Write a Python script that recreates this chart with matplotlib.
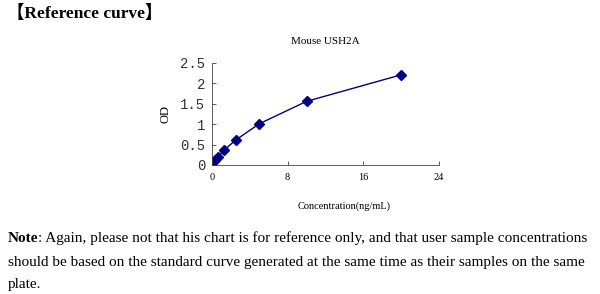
import matplotlib.pyplot as plt

conc = [0, 0.156, 0.3125, 0.625, 1.25, 2.5, 5, 10, 20]
od = [0.04, 0.08, 0.12, 0.2, 0.36, 0.61, 1.01, 1.56, 2.21]

x_ticks = [0, 8, 16, 24]
y_ticks = [0, 0.5, 1, 1.5, 2, 2.5]
y_tick_labels = ["0", "0.5", "1", "1.5", "2", "2.5"]

serif = ["Liberation Serif", "Noto Sans CJK SC"]
navy = "#000080"

fig = plt.figure(figsize=(6, 2.94), dpi=100)
ax = fig.add_axes([0.3533, 0.4388, 0.3784, 0.347])

ax.plot(conc, od, color=navy, linewidth=1, marker="D", markersize=5,
        markerfacecolor=navy, markeredgecolor=navy)

ax.set_xlim(0, 24)
ax.set_ylim(0, 2.5)
ax.set_xticks(x_ticks)
ax.set_xticklabels([str(t) for t in x_ticks], family=serif, fontsize=7.5)
ax.set_yticks(y_ticks)
ax.set_yticklabels(y_tick_labels, family="Liberation Mono", fontsize=10,
                   color="#333333")
ax.tick_params(direction="in", length=3, width=0.6, color="#444444")
ax.tick_params(axis="x", pad=6)
ax.tick_params(axis="y", pad=5)
for side in ["top", "right"]:
    ax.spines[side].set_visible(False)
for side in ["left", "bottom"]:
    ax.spines[side].set_linewidth(0.6)
    ax.spines[side].set_color("#444444")

ax.set_title("Mouse USH2A", family=serif, fontsize=8, pad=14)
ax.set_xlabel("Concentration(ng/mL)", family=serif, fontsize=7.5)
ax.xaxis.set_label_coords(0.58, -0.36)
ax.set_ylabel("OD", family=serif, fontsize=9, labelpad=6)

fig.text(0.012, 0.955, "【Reference curve】", family=serif, fontsize=12.5,
         fontweight="bold", va="center")

note1 = ("Note", ": Again, please not that his chart is for reference only, "
         "and that user sample concentrations")
t = fig.text(0.013, 0.19, note1[0], family=serif, fontsize=11,
             fontweight="bold", va="center")
fig.canvas.draw()
bb = t.get_window_extent()
fig.text(bb.x1 / fig.bbox.width, 0.19, note1[1], family=serif, fontsize=11,
         va="center")
fig.text(0.013, 0.108, "should be based on the standard curve generated at the "
         "same time as their samples on the same", family=serif,
         fontsize=11, va="center")
fig.text(0.013, 0.034, "plate.", family=serif, fontsize=11, va="center")

fig.savefig("out.png", dpi=100)
